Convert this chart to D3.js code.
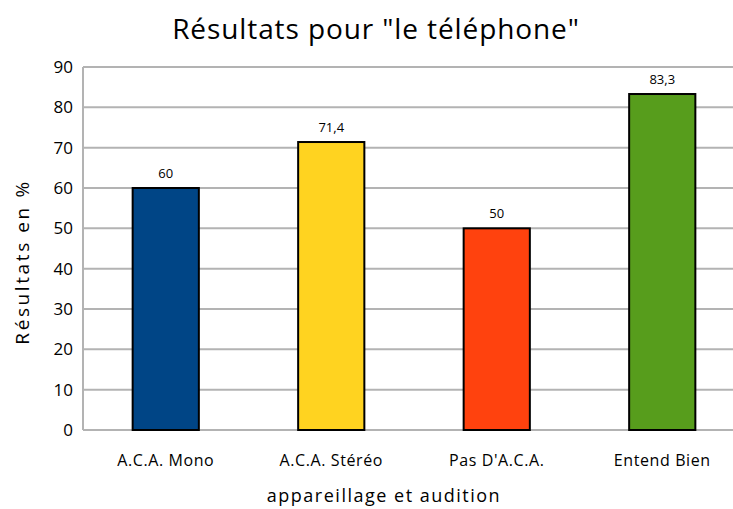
<!DOCTYPE html>
<html>
<head>
<meta charset="utf-8">
<script src="https://cdn.jsdelivr.net/npm/d3@7"></script>
<style>
  body { margin: 0; background: #fff; }
  text { font-family: "Open Sans", "DejaVu Sans", sans-serif; fill: #000; }
</style>
</head>
<body>
<svg id="chart"></svg>
<script>
let categories = ['A.C.A. Mono', 'A.C.A. Stéréo', "Pas D'A.C.A.", 'Entend Bien'];
let values = [60, 71.4, 50, 83.3];
let valueLabels = ['60', '71,4', '50', '83,3'];
let colors = ['#004586', '#ffd320', '#ff420e', '#579d1c'];
let yTicks = [0, 10, 20, 30, 40, 50, 60, 70, 80, 90];

let width = 733, height = 509;

let chart = d3.select('#chart')
  .attr('width', width)
  .attr('height', height);

let xScale = d3.scaleBand()
  .domain(categories)
  .range([83, 745])
  .paddingInner(0.6)
  .paddingOuter(0.3);

let yScale = d3.scaleLinear()
  .domain([0, 90])
  .range([430, 67]);

// gridlines
chart.append('g')
  .selectAll('line')
  .data(yTicks)
  .enter().append('line')
  .attr('x1', 83)
  .attr('x2', width)
  .attr('y1', d => yScale(d))
  .attr('y2', d => yScale(d))
  .attr('stroke', '#b3b3b3')
  .attr('stroke-width', 2);

// y axis line
chart.append('line')
  .attr('x1', 83).attr('x2', 83)
  .attr('y1', yScale(90)).attr('y2', yScale(0))
  .attr('stroke', '#b3b3b3')
  .attr('stroke-width', 2);

let yAxis = d3.axisLeft(yScale).tickValues(yTicks).tickSize(0).tickPadding(10);
let yg = chart.append('g').attr('transform', 'translate(83,0)').call(yAxis);
yg.select('.domain').remove();
yg.selectAll('text').style('font-size', '17px').style('font-family', '"Open Sans", sans-serif');

// bars
chart.append('g')
  .selectAll('rect')
  .data(values)
  .enter().append('rect')
  .attr('x', (d, i) => xScale(categories[i]))
  .attr('y', d => yScale(d))
  .attr('width', xScale.bandwidth())
  .attr('height', d => yScale(0) - yScale(d))
  .attr('fill', (d, i) => colors[i])
  .attr('stroke', '#000')
  .attr('stroke-width', 2);

// value labels
chart.append('g')
  .selectAll('text')
  .data(values)
  .enter().append('text')
  .attr('x', (d, i) => xScale(categories[i]) + xScale.bandwidth() / 2)
  .attr('y', d => yScale(d) - 10)
  .attr('text-anchor', 'middle')
  .style('font-size', '13px')
  .text((d, i) => valueLabels[i]);

// category labels
let xAxis = d3.axisBottom(xScale).tickSize(0).tickPadding(25);
let xg = chart.append('g').attr('transform', 'translate(0,430)').call(xAxis);
xg.select('.domain').remove();
xg.selectAll('text')
  .style('font-size', '16px')
  .style('letter-spacing', '0.6px')
  .style('font-family', '"Open Sans", sans-serif');

// titles
chart.append('text')
  .attr('x', 376).attr('y', 39)
  .attr('text-anchor', 'middle')
  .style('font-size', '28px')
  .style('letter-spacing', '0.9px')
  .text('Résultats pour "le téléphone"');

chart.append('text')
  .attr('x', 384).attr('y', 502)
  .attr('text-anchor', 'middle')
  .style('font-size', '18px')
  .style('letter-spacing', '1.5px')
  .text('appareillage et audition');

chart.append('text')
  .attr('transform', 'translate(29,262) rotate(-90)')
  .attr('text-anchor', 'middle')
  .style('font-size', '19px')
  .style('letter-spacing', '2.6px')
  .text('Résultats en %');
</script>
</body>
</html>
